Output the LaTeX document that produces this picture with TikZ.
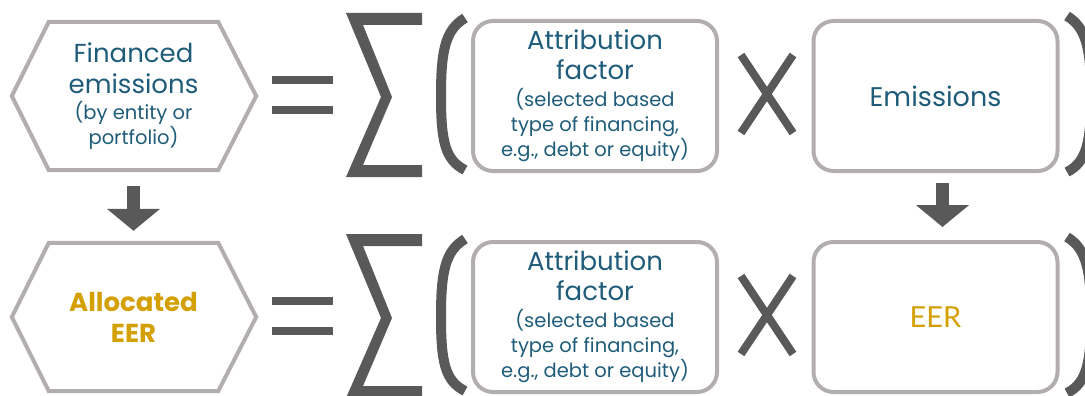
\documentclass[tikz,border=0pt]{standalone}
\usepackage{fontspec}
\setmainfont{Poppins}
\newfontfamily\latofont{Lato}
\usetikzlibrary{positioning,arrows.meta}
\definecolor{eerteal}{HTML}{1F5C7A}
\definecolor{eergold}{HTML}{D3A000}
\definecolor{eerframe}{HTML}{B3AEAE}
\definecolor{eerdark}{HTML}{595959}
\newcommand{\lblbig}{\fontsize{26}{31}\selectfont}
\newcommand{\lblsmall}{\fontsize{19.5}{25}\selectfont}
\newcommand{\lblcard}{\fontsize{27}{33}\selectfont}

\begin{document}
\begin{tikzpicture}[x=1pt,y=-1pt,
  frame/.style={draw=eerframe,line width=4,line join=miter},
  hexbox/.style={minimum width=169,minimum height=148,inner sep=0pt,align=center,text=eerteal,font=\lblbig},
  card/.style={draw=eerframe,line width=4,rounded corners=20,minimum width=244,minimum height=150,align=center,text=eerteal,font=\lblbig},
  fatarrow/.style={draw=eerdark,line width=13,-{Triangle[width=52pt,length=22pt]}}]
\useasboundingbox (0,0) rectangle (1085,396);
% left hand side: hexagons
\node[hexbox] (fin) at (133.5,96) {Financed\\emissions\\[-5pt]\lblsmall(by entity or\\[-6pt]\lblsmall portfolio)};
\node[hexbox,text=eergold,font=\lblbig\bfseries] (alloc) at (133.5,317) {Allocated\\EER};
\foreach \h in {fin,alloc}
  \draw[frame] (\h.north west) -- (\h.north east) -- ([xshift=38]\h.east) -- (\h.south east)
    -- (\h.south west) -- ([xshift=-37]\h.west) -- cycle;
% right hand side: the two factors
\node[card] (attr) at (595,96) {Attribution\\[-1pt]factor\\[-4pt]\lblsmall(selected based\\[-6pt]\lblsmall type of financing,\\[-6pt]\lblsmall e.g., debt or equity)};
\node[card,font=\lblcard] (emis) at (935.5,96) {Emissions};
\node[card] (attr2) at (595,317) {Attribution\\[-1pt]factor\\[-4pt]\lblsmall(selected based\\[-6pt]\lblsmall type of financing,\\[-6pt]\lblsmall e.g., debt or equity)};
\node[card,font=\latofont\fontsize{29}{34}\selectfont,text=eergold] (eer) at (935.5,317) {EER};
% operators, one set per row
\foreach \yc in {96,317} {
  \fill[eerdark] (272,\yc-20) rectangle (333,\yc-12);
  \fill[eerdark] (272,\yc+10) rectangle (333,\yc+18);
  \fill[eerdark] (346,\yc-83) -- (422,\yc-83) -- (422,\yc-71) -- (363,\yc-71) -- (392,\yc+1)
    -- (363,\yc+69) -- (422,\yc+69) -- (422,\yc+81) -- (346,\yc+81) -- (381,\yc+1) -- cycle;
  \draw[eerdark,line width=10] (465,\yc-78) .. controls (445,\yc-66) and (441,\yc-45) .. (441,\yc)
    .. controls (441,\yc+45) and (445,\yc+64) .. (465,\yc+74);
  \draw[eerdark,line width=8] (741,\yc-41) -- (793,\yc+37);
  \draw[eerdark,line width=8] (793,\yc-41) -- (741,\yc+37);
  \draw[eerdark,line width=10] (1067,\yc-80) .. controls (1087,\yc-68) and (1091,\yc-45) .. (1091,\yc)
    .. controls (1091,\yc+45) and (1087,\yc+66) .. (1067,\yc+76);
}
% downward arrows
\draw[fatarrow,shorten <=16,shorten >=12] (fin.south) -- (alloc.north);
\draw[fatarrow,shorten <=10,shorten >=13] ([xshift=7]emis.south) -- ([xshift=7]eer.north);
\end{tikzpicture}
\end{document}
